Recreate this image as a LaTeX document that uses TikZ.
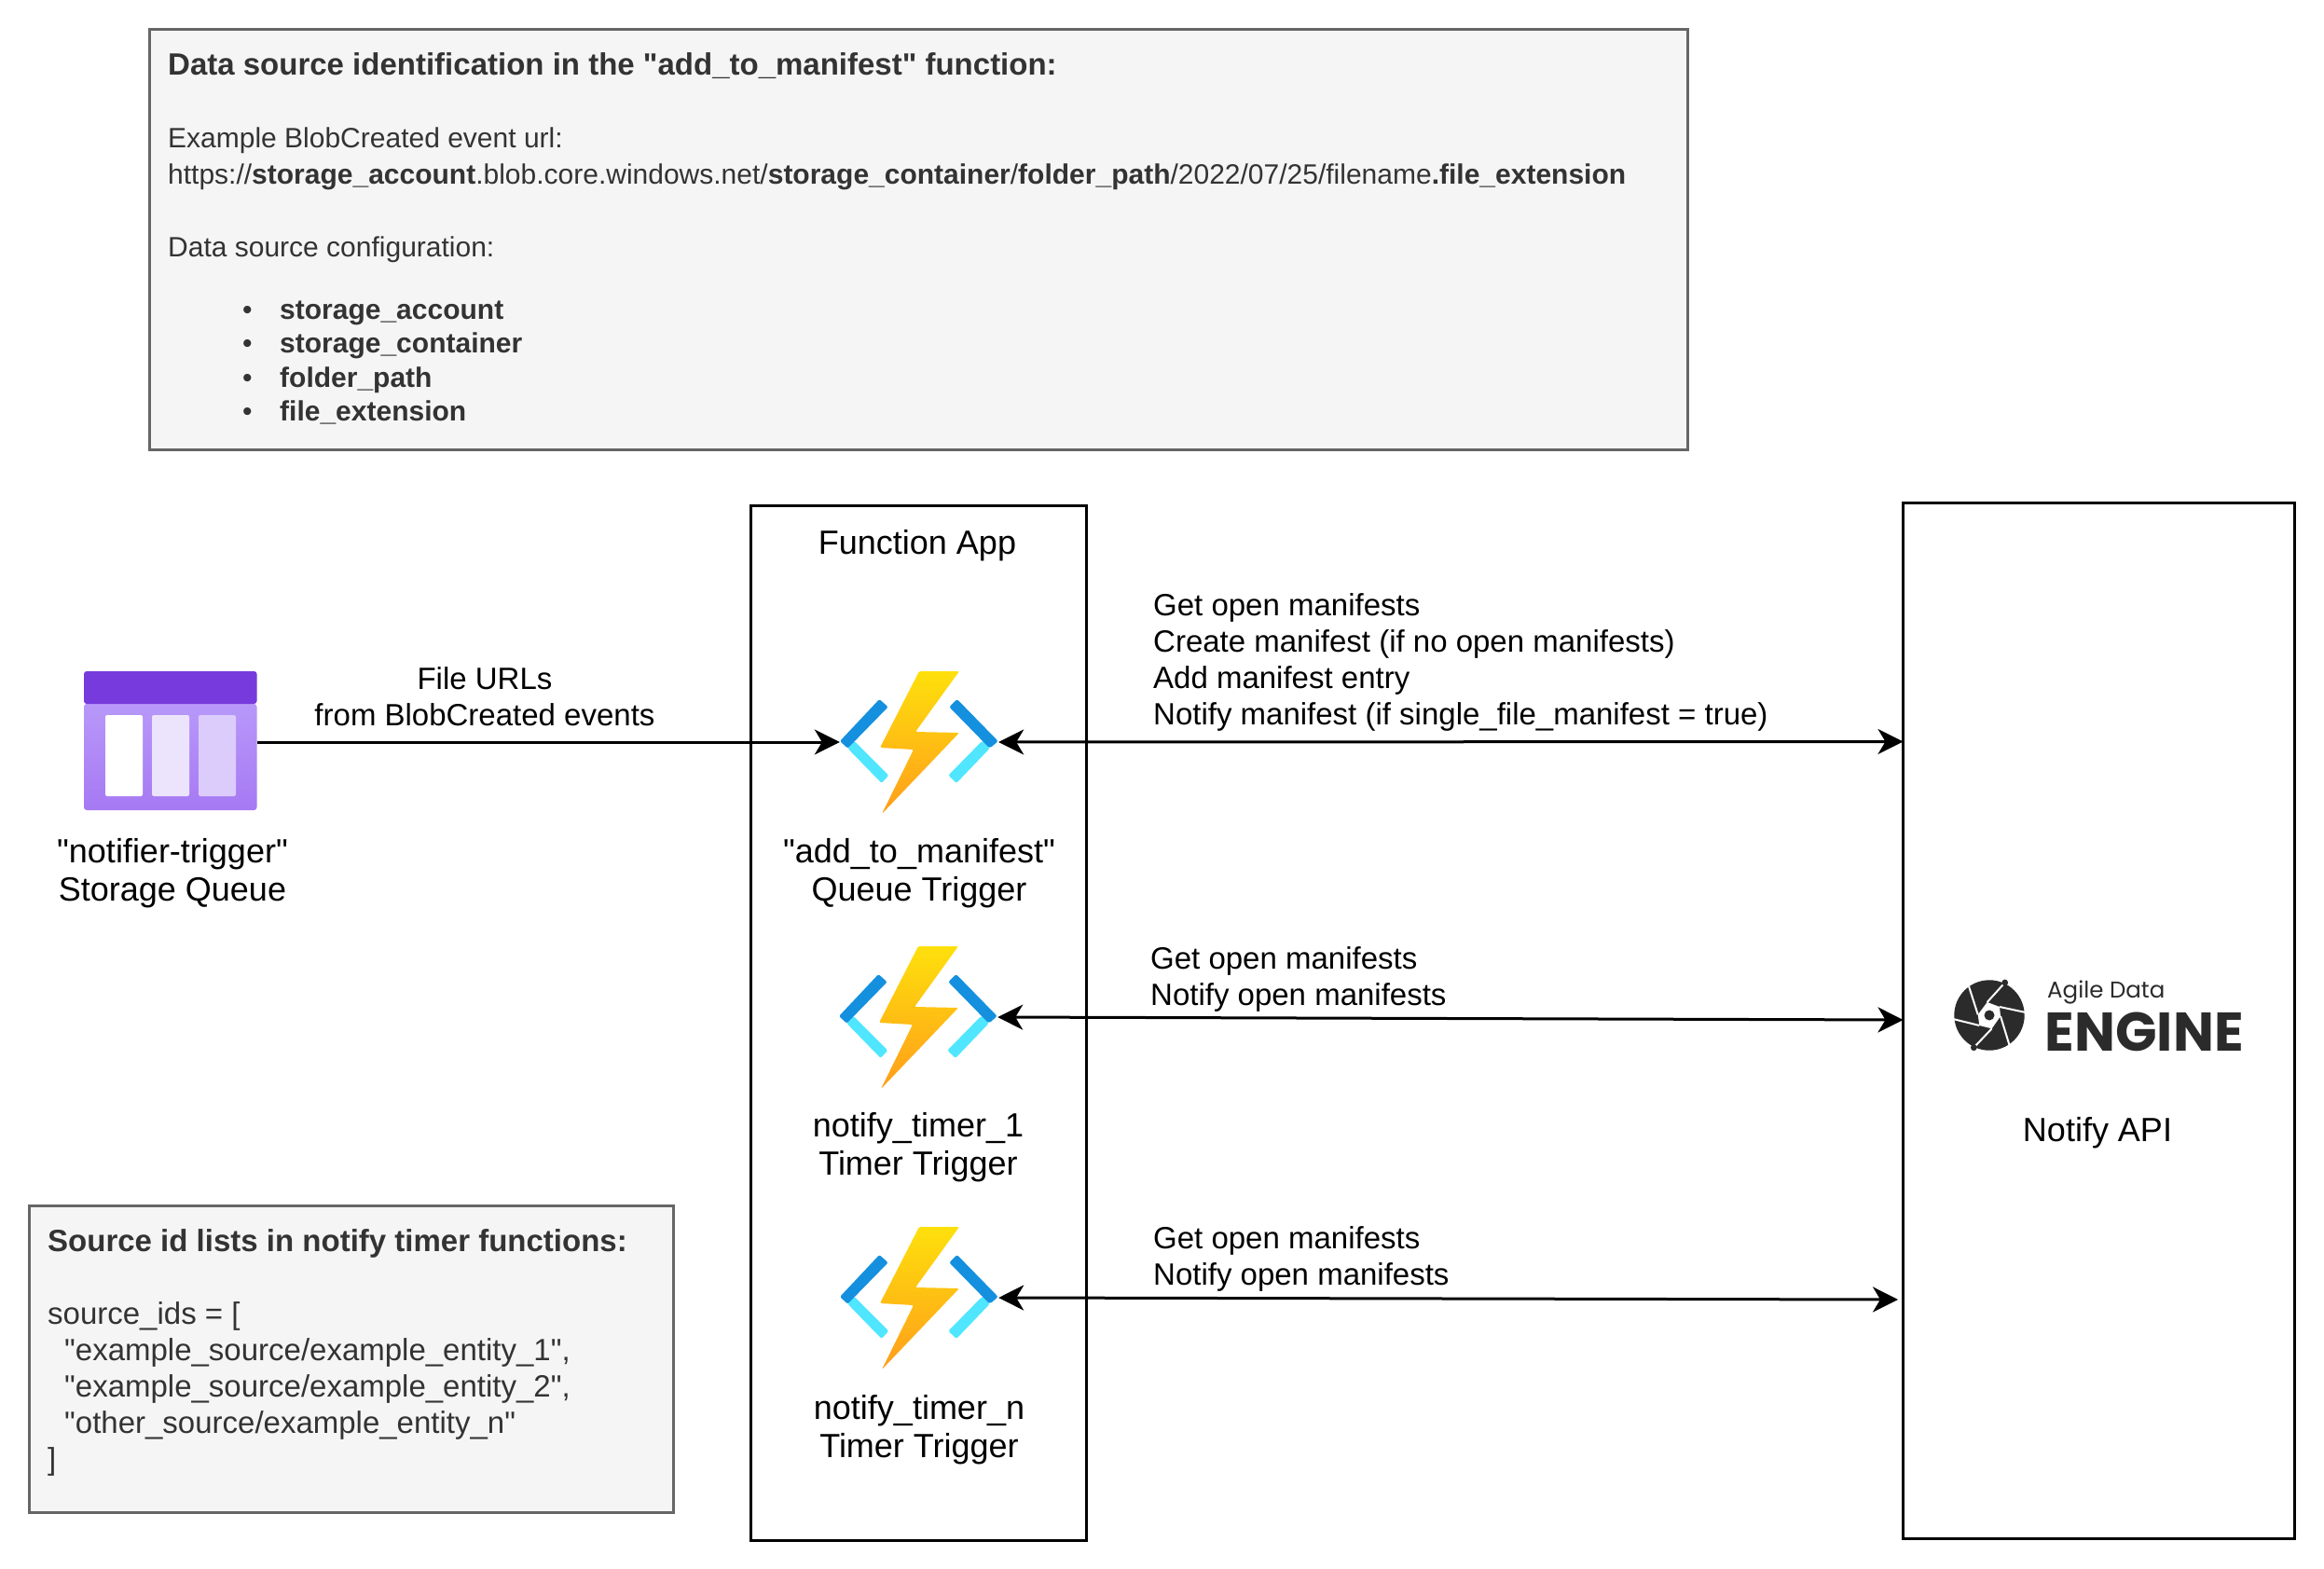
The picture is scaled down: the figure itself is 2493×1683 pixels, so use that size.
\documentclass[tikz,border=0pt]{standalone}
\usepackage{fontspec}
\setmainfont{Liberation Sans}[Ligatures=TeXOff]
\newfontfamily\logofont{Poppins}
\usetikzlibrary{arrows.meta}
\definecolor{notefill}{HTML}{F5F5F5}
\definecolor{noteline}{HTML}{666666}
\definecolor{notetxt}{HTML}{333333}
\definecolor{logodark}{HTML}{2B2B2B}
\tikzset{
	labeltext/.style={font=\fontsize{33}{39}\selectfont,align=left,inner sep=0pt},
	icontext/.style={font=\fontsize{36}{41}\selectfont,align=center,inner sep=0pt},
	notetext/.style={labeltext,text=notetxt},
	notebox/.style={draw=noteline,fill=notefill,line width=3pt,inner sep=0pt},
	blackbox/.style={draw=black,line width=3pt,inner sep=0pt},
	iconnode/.style={minimum width=170pt,minimum height=150pt,inner sep=0pt},
	queuenode/.style={minimum width=185pt,minimum height=150pt,inner sep=0pt},
	link/.style={line width=3pt,draw=black,>={Stealth[length=27pt,width=27pt,inset=8pt]}},
	fnicon/.pic={
		\fill[color={rgb,255:red,80;green,230;blue,255},rounded corners=2pt]
			(-76.7,-1)--(-69.3,-1)--(-32.7,35.7)--(-40.3,44)--(-76.7,6.7)--cycle;
		\fill[color={rgb,255:red,80;green,230;blue,255},rounded corners=2pt]
			(67.3,-1)--(75.7,-1)--(75.7,6.7)--(40,44)--(31.3,35.7)--cycle;
		\fill[color={rgb,255:red,20;green,144;blue,223},rounded corners=2pt]
			(-42.7,-46)--(-33.3,-37.7)--(-76.7,6.7)--(-85,-1)--cycle;
		\fill[color={rgb,255:red,20;green,144;blue,223},rounded corners=2pt]
			(40.7,-46)--(32.3,-37.7)--(75.7,6.7)--(84.7,-1)--cycle;
		\shade[top color={rgb,255:red,254;green,224;blue,12},bottom color={rgb,255:red,255;green,157;blue,27},rounded corners=1.5pt]
			(0,-76)--(43,-76)--(-4,-11)--(43,-10)--(-40,77)--(-6,8)--(-42,6)--cycle;
	},
	queueicon/.pic={
		\shade[top color={rgb,255:red,184;green,152;blue,249},bottom color={rgb,255:red,166;green,121;blue,243},rounded corners=3pt]
			(-93,-41)--(92.5,-41)--(92.5,73)--(-93,73)--cycle;
		\fill[color={rgb,255:red,119;green,58;blue,220},rounded corners=3pt]
			(-93,-41)--(-93,-76)--(92.5,-76)--(92.5,-41)--cycle;
		\fill[white,rounded corners=2pt] (-70,-29) rectangle (-30,58);
		\fill[color={rgb,255:red,236;green,228;blue,253},rounded corners=2pt] (-20,-29) rectangle (20,58);
		\fill[color={rgb,255:red,220;green,204;blue,251},rounded corners=2pt] (30,-29) rectangle (70,58);
	},
	adelogo/.pic={
		\fill[logodark] (0,0) circle[radius=37.7];
		\fill[white] (-12.3,-0.7)--(-2.3,-14)--(11,-9)--(12,1)--(2.7,14.3)--(-10.7,11)--cycle;
		\draw[white,line width=2pt] (-12.3,-0.7)--(-22,-31) (-2.3,-14)--(16.7,-35) (11,-9)--(39,-3)
			(12,1)--(21.5,32) (2.7,14.3)--(-16.7,34.7) (-10.7,11)--(-39,4);
		\fill[logodark] (0,0) circle[radius=5.5];
		\fill[logodark] (16.7,-35) circle[radius=3.4];
		\fill[logodark] (-16.7,34.7) circle[radius=3.4];
	},
}
\begin{document}
\begin{tikzpicture}[x=1pt,y=-1pt]
	\useasboundingbox (0,0) rectangle (2493,1683);
	\node[notebox,minimum width=1650pt,minimum height=450pt] (manifestbox) at (985.5,257) {};
	\node[notetext,anchor=west,font=\fontsize{30}{39}\selectfont] (manifesttext) at (180,256) {%
		{\fontsize{33}{39}\selectfont\textbf{Data source identification in the "add\_to\_manifest" function:}}\\[38.5pt]
		Example BlobCreated event url:\\
		https://\textbf{storage\_account}.blob.core.windows.net/\textbf{storage\_container}/\textbf{folder\_path}/2022/07/25/filename\textbf{.file\_extension}\\[39pt]
		Data source configuration:\\[28pt]
		\hspace*{80pt}\textbullet\hspace*{29.5pt}\textbf{storage\_account}\\[-2.5pt]
		\hspace*{80pt}\textbullet\hspace*{29.5pt}\textbf{storage\_container}\\[-2.5pt]
		\hspace*{80pt}\textbullet\hspace*{29.5pt}\textbf{folder\_path}\\[-2.5pt]
		\hspace*{80pt}\textbullet\hspace*{29.5pt}\textbf{file\_extension}};
	\node[notebox,minimum width=691pt,minimum height=329pt] (sourceidbox) at (376.5,1457.5) {};
	\node[notetext,anchor=west] (sourceidtext) at (51,1451) {%
		\textbf{Source id lists in notify timer functions:}\\[39pt]
		source\_ids = [\\
		\hspace*{18pt}"example\_source/example\_entity\_1",\\
		\hspace*{18pt}"example\_source/example\_entity\_2",\\
		\hspace*{18pt}"other\_source/example\_entity\_n"\\
		]};
	\node[blackbox,minimum width=360pt,minimum height=1110pt] (functionapp) at (985.5,1097) {};
	\node[blackbox,minimum width=420pt,minimum height=1111pt] (notifyapi) at (2251.5,1094.5) {};
	\node[labeltext,font=\fontsize{36}{41}\selectfont] (functionapplabel) at (984,585) {Function App};
	\node[queuenode] (queue) at (183,796) {};
	\pic at (queue) {queueicon};
	\node[icontext] (queuelabel) at (185,936.5) {"notifier-trigger"\\Storage Queue};
	\node[iconnode] (addfn) at (986,796) {};
	\pic at (addfn) {fnicon};
	\node[icontext] (addlabel) at (986,936.5) {"add\_to\_manifest"\\Queue Trigger};
	\node[iconnode] (timerone) at (985,1091) {};
	\pic at (timerone) {fnicon};
	\node[icontext] (timeronelabel) at (985,1230.5) {notify\_timer\_1\\Timer Trigger};
	\node[iconnode] (timern) at (986,1392) {};
	\pic at (timern) {fnicon};
	\node[icontext] (timernlabel) at (986,1534) {notify\_timer\_n\\Timer Trigger};
	\coordinate (apiadd) at (2041.5,795.5);
	\coordinate (apione) at (2041.5,1094);
	\coordinate (apin) at (2036,1394);
	\draw[link,->] (queue.east)--(addfn.west);
	\draw[link,<->] (addfn.east)--(apiadd);
	\draw[link,<->] (timerone.east)--(apione);
	\draw[link,<->] (timern.east)--(apin);
	\node[labeltext,align=center] (filelabel) at (520,747) {File URLs\\from BlobCreated events};
	\node[labeltext,anchor=west] (addcalls) at (1237,710.5) {Get open manifests\\Create manifest (if no open manifests)\\Add manifest entry\\Notify manifest (if single\_file\_manifest = true)};
	\node[labeltext,anchor=west] (onecalls) at (1234,1050) {Get open manifests\\Notify open manifests};
	\node[labeltext,anchor=west] (ncalls) at (1237,1350.5) {Get open manifests\\Notify open manifests};
	\pic at (2134,1089) {adelogo};
	\node[inner sep=0pt,anchor=base west,font=\logofont\fontsize{24.5}{30}\selectfont,text=logodark] (logoagile) at (2196,1070) {Agile Data};
	\node[inner sep=0pt,anchor=base west,font=\logofont\bfseries\fontsize{58.5}{66}\selectfont,text=logodark] (logoengine) at (2193.5,1127) {ENGINE};
	\node[labeltext,font=\fontsize{36}{41}\selectfont] (notifylabel) at (2250,1215) {Notify API};
\end{tikzpicture}
\end{document}
